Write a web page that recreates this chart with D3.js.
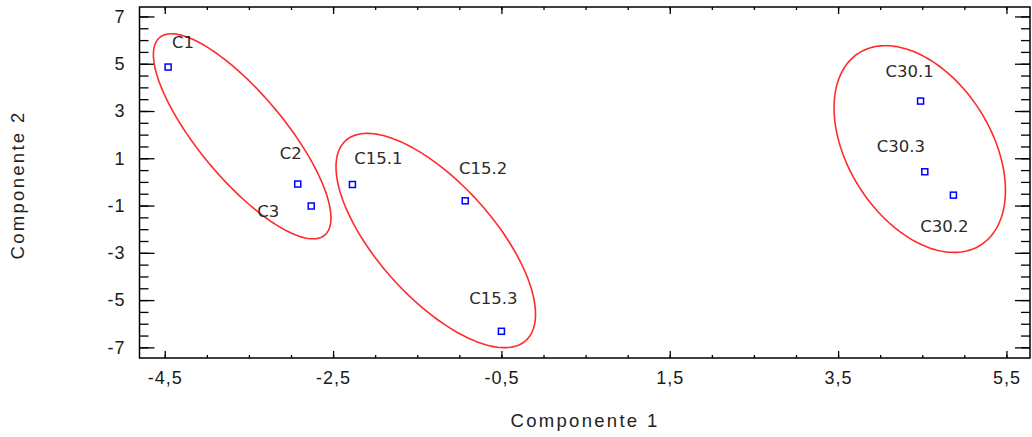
<!DOCTYPE html>
<html lang="es">
<head>
<meta charset="UTF-8">
<title>Componente 1 vs Componente 2</title>
<style>
    body { margin: 0; padding: 0; background: #fff; }
    svg { display: block; }
    .tick-label { font-family: "Liberation Sans", Arial, sans-serif; font-size: 18px; fill: #1a1a1a; letter-spacing: 1px; }
    .axis-title { font-family: "Liberation Sans", Arial, sans-serif; font-size: 18.5px; fill: #222; letter-spacing: 2.3px; }
    .point-label { font-family: "DejaVu Sans", sans-serif; font-size: 16.5px; fill: #2b2b2b; }
    .frame { fill: none; stroke: #000; stroke-width: 1.5; }
    .ellipse { fill: none; stroke: #ff2a2a; stroke-width: 1.6; }
    .point { fill: none; stroke: #0000ff; stroke-width: 1.5; }
</style>
</head>
<body>
<div id="chart"></div>
<script src="https://d3js.org/d3.v7.min.js"></script>
<script>
// datos
const names = ["C1", "C2", "C3", "C15.1", "C15.2", "C15.3", "C30.1", "C30.2", "C30.3"];
const comp1 = [-4.46, -2.92, -2.76, -2.27, -0.93, -0.50, 4.48, 4.87, 4.53];
const comp2 = [4.86, -0.09, -1.02, -0.11, -0.80, -6.32, 3.42, -0.56, 0.43];

const xTicks = [-4.5, -2.5, -0.5, 1.5, 3.5, 5.5];
const yTicks = [7, 5, 3, 1, -1, -3, -5, -7];

// elipses de grupo: centro + dos semiejes (en unidades de los datos)
const groupCx = [-3.58, -1.28, 4.47];
const groupCy = [1.93, -2.48, 1.39];
const groupU = [[0.98, -4.18], [1.07, -4.23], [0.72, -4.07]];
const groupV = [[-0.39, -1.16], [-0.51, -1.63], [-0.72, -1.60]];

// desplazamiento de las etiquetas (px, centro del texto respecto al punto)
const labelDx = [15, -7, -43, 26, 18, -8, -11, -9, -24];
const labelDy = [-25, -31, 5, -26, -33, -33, -30, 31, -26];

const width = 1032, height = 437;
const svg = d3.select("#chart").append("svg")
    .attr("width", width)
    .attr("height", height);

const x = d3.scaleLinear().domain([-4.8, 5.78]).range([139.5, 1030]);
const y = d3.scaleLinear().domain([-7.45, 7.4]).range([358, 7]);

const minorX = d3.range(-4.5, 5.51, 0.5);
const minorY = d3.range(-7, 7.01, 0.5);

function styleAxis(g) {
    g.select(".domain").remove();
    g.selectAll(".tick line").attr("stroke", "#000").attr("stroke-width", 1.3);
}

// ejes menores
svg.append("g").attr("transform", `translate(0,${y.range()[0]})`)
    .call(d3.axisBottom(x).tickValues(minorX).tickSize(-3).tickFormat(""))
    .call(styleAxis);
svg.append("g").attr("transform", `translate(0,${y.range()[1]})`)
    .call(d3.axisTop(x).tickValues(minorX).tickSize(-3).tickFormat(""))
    .call(styleAxis);
svg.append("g").attr("transform", `translate(${x.range()[0]},0)`)
    .call(d3.axisLeft(y).tickValues(minorY).tickSize(-9).tickFormat(""))
    .call(styleAxis);
svg.append("g").attr("transform", `translate(${x.range()[1]},0)`)
    .call(d3.axisRight(y).tickValues(minorY).tickSize(-9).tickFormat(""))
    .call(styleAxis);

const fmt = d => String(d).replace(".", ",");

// ejes mayores
svg.append("g").attr("transform", `translate(0,${y.range()[0]})`)
    .call(d3.axisBottom(x).tickValues(xTicks).tickSizeInner(-7).tickSizeOuter(0).tickPadding(13).tickFormat(fmt))
    .call(styleAxis);
svg.append("g").attr("transform", `translate(0,${y.range()[1]})`)
    .call(d3.axisTop(x).tickValues(xTicks).tickSizeInner(-7).tickSizeOuter(0).tickFormat(""))
    .call(styleAxis);
svg.append("g").attr("transform", `translate(${x.range()[0]},0)`)
    .call(d3.axisLeft(y).tickValues(yTicks).tickSizeInner(-15).tickSizeOuter(0).tickPadding(14).tickFormat(fmt))
    .call(styleAxis);
svg.append("g").attr("transform", `translate(${x.range()[1]},0)`)
    .call(d3.axisRight(y).tickValues(yTicks).tickSizeInner(-15).tickSizeOuter(0).tickFormat(""))
    .call(styleAxis);

svg.selectAll(".tick text").attr("class", "tick-label").attr("font-size", null).attr("font-family", null);

// marco
svg.append("rect")
    .attr("class", "frame")
    .attr("x", x.range()[0])
    .attr("y", y.range()[1])
    .attr("width", x.range()[1] - x.range()[0])
    .attr("height", y.range()[0] - y.range()[1]);

// elipses
const steps = d3.range(0, 2 * Math.PI, Math.PI / 90);
const ellipseLine = d3.line().curve(d3.curveLinearClosed);
groupCx.forEach((cx, i) => {
    const pts = steps.map(t => [
        x(cx + groupU[i][0] * Math.cos(t) + groupV[i][0] * Math.sin(t)),
        y(groupCy[i] + groupU[i][1] * Math.cos(t) + groupV[i][1] * Math.sin(t))
    ]);
    svg.append("path").attr("class", "ellipse").attr("d", ellipseLine(pts));
});

// puntos
const pts = names.map((n, i) => ({ name: n, c1: comp1[i], c2: comp2[i], dx: labelDx[i], dy: labelDy[i] }));
const s = 6;
svg.selectAll(".point")
    .data(pts)
    .enter().append("rect")
    .attr("class", "point")
    .attr("x", d => x(d.c1) - s / 2)
    .attr("y", d => y(d.c2) - s / 2)
    .attr("width", s)
    .attr("height", s);

svg.selectAll(".point-label")
    .data(pts)
    .enter().append("text")
    .attr("class", "point-label")
    .attr("x", d => x(d.c1) + d.dx)
    .attr("y", d => y(d.c2) + d.dy)
    .attr("text-anchor", "middle")
    .attr("dy", "0.36em")
    .text(d => d.name);

// titulos de ejes
svg.append("text")
    .attr("class", "axis-title")
    .attr("x", 585)
    .attr("y", 421)
    .attr("text-anchor", "middle")
    .attr("dy", "0.35em")
    .text("Componente 1");

svg.append("text")
    .attr("class", "axis-title")
    .attr("transform", "translate(18,185) rotate(-90)")
    .attr("text-anchor", "middle")
    .attr("dy", "0.35em")
    .text("Componente 2");
</script>
</body>
</html>
